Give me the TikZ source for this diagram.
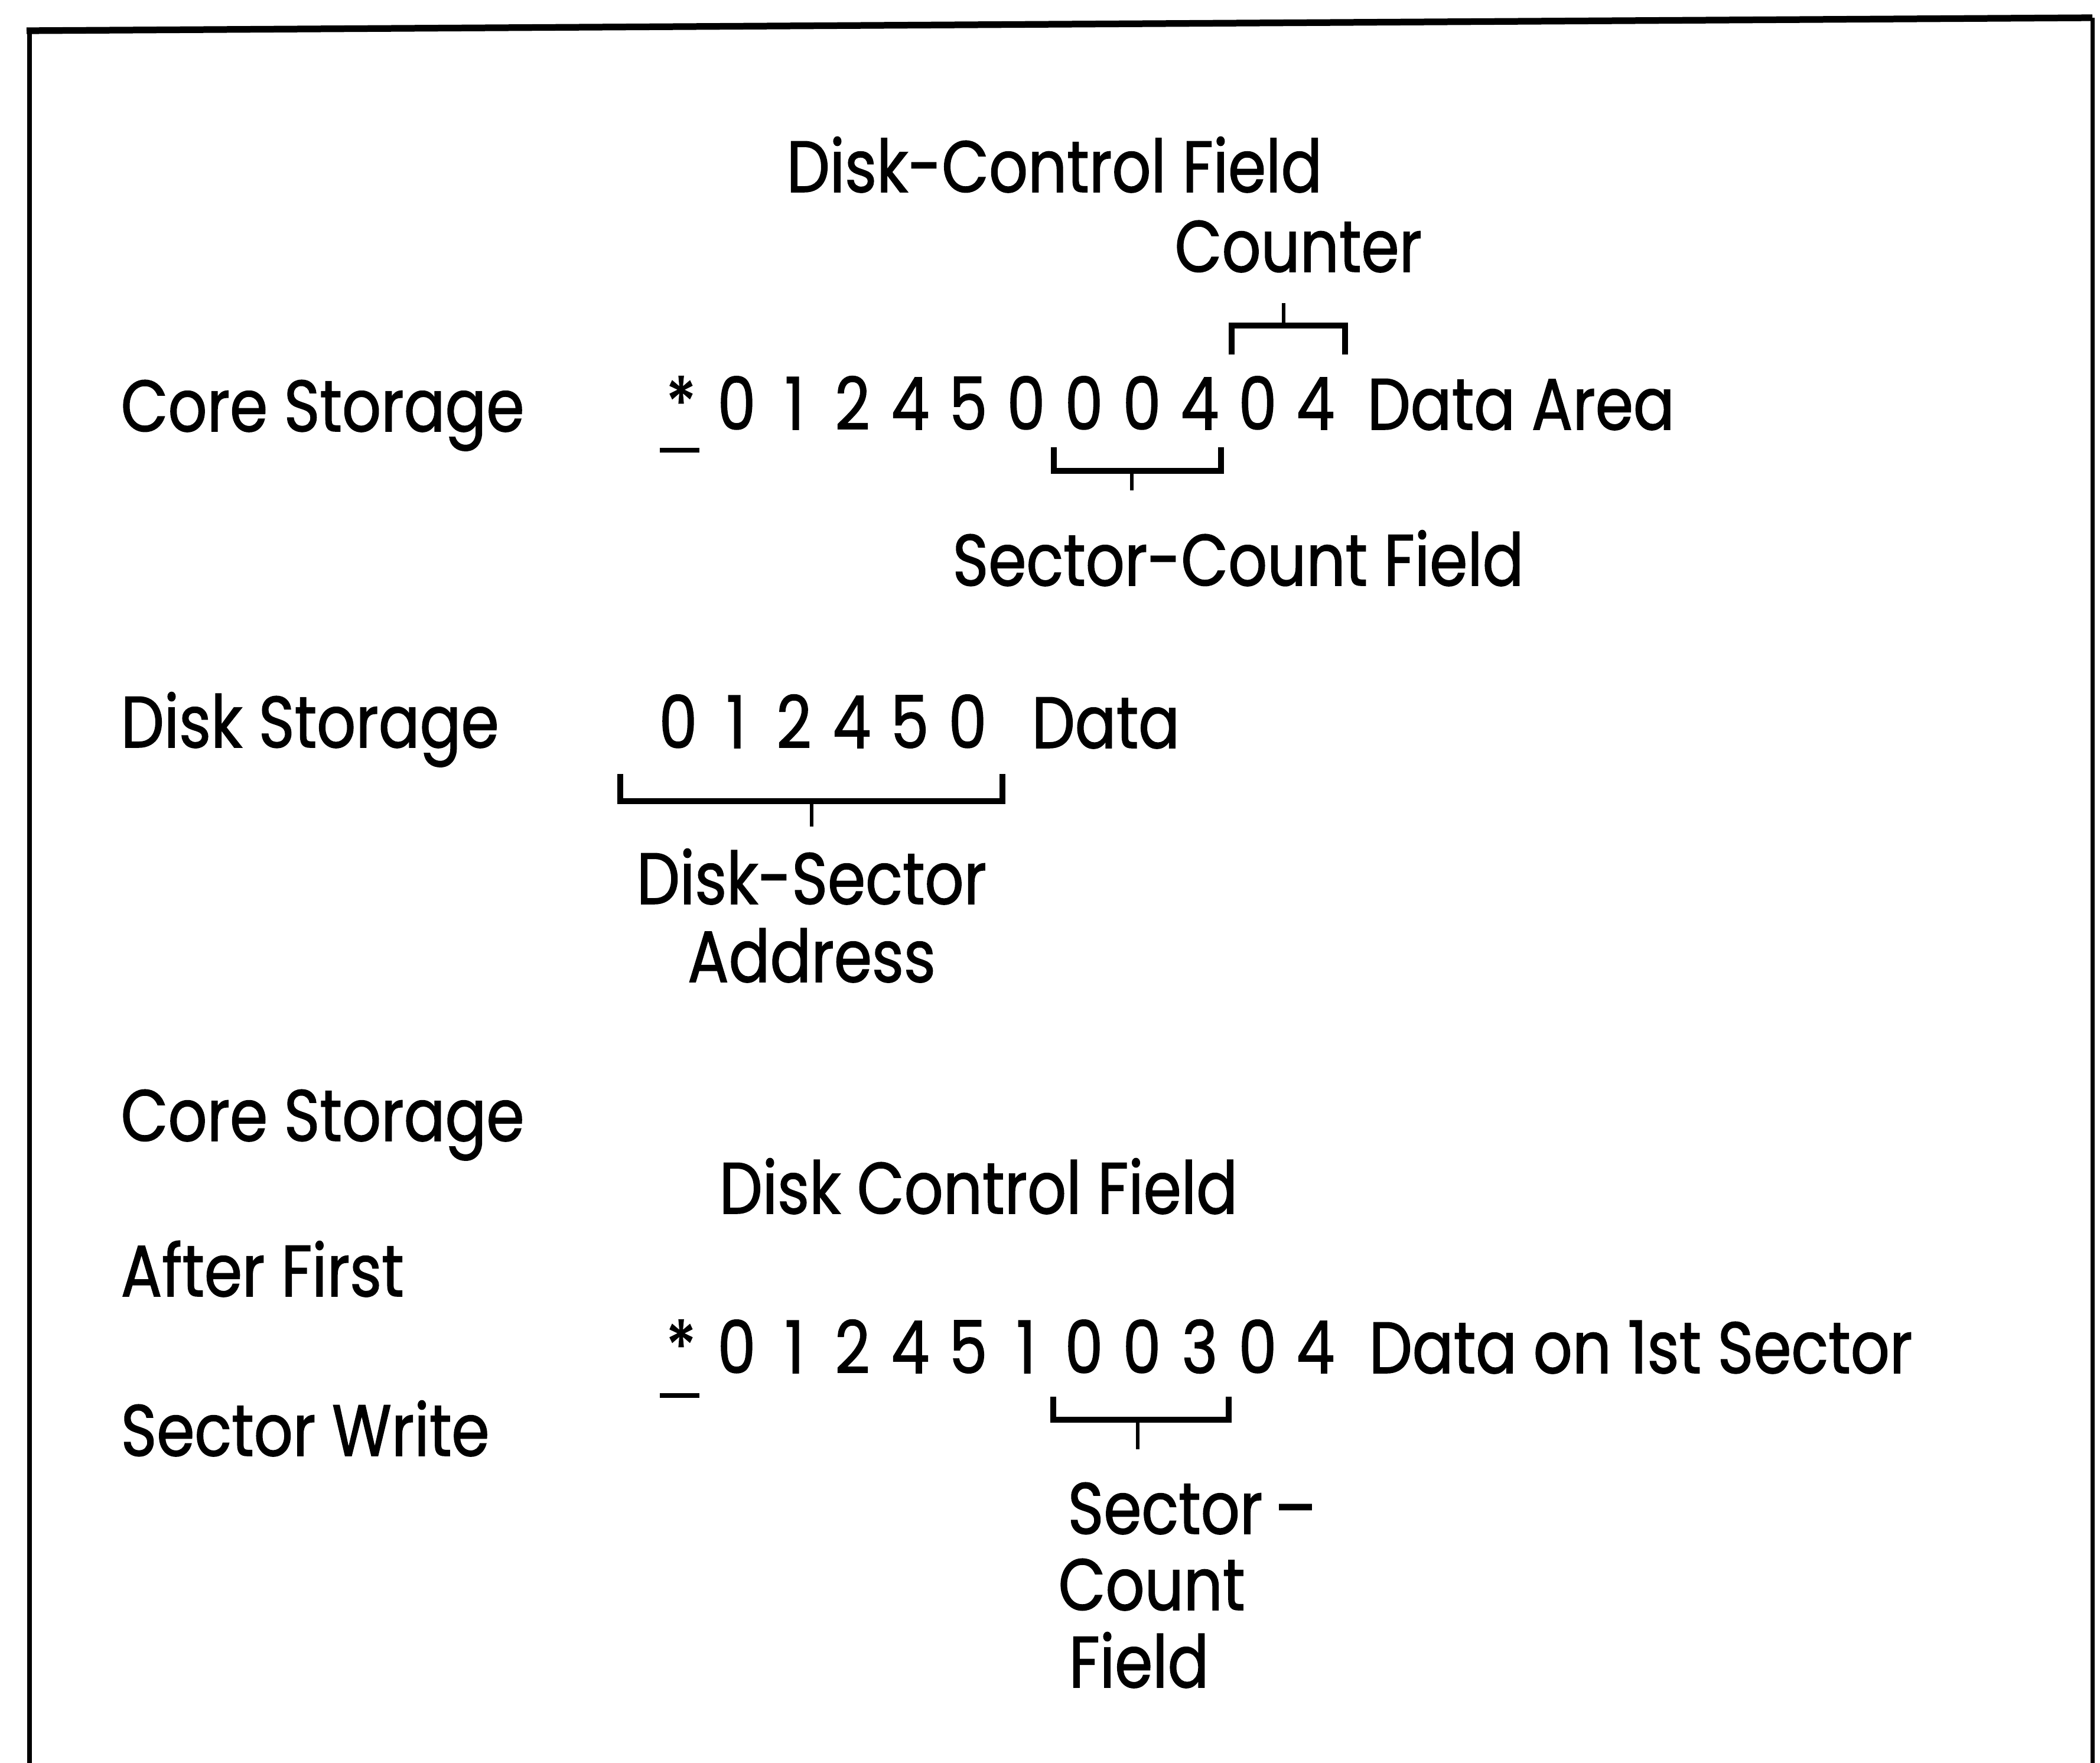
\documentclass[tikz,border=0pt]{standalone}
\usepackage{fontspec}
\setmainfont{Poppins}[FakeStretch=0.84, FakeBold=1.2]
\usepackage{tikz}
\usetikzlibrary{positioning}

\tikzset{
  txt/.style={font=\fontsize{35}{42}\selectfont, inner sep=0pt, anchor=base west},
  dig/.style={font=\fontsize{35}{42}\selectfont, inner sep=0pt, anchor=base},
  brk/.style={line width=2.6pt},
  tick/.style={line width=1.6pt},
  uline/.style={line width=2.4pt},
}

\begin{document}
\begin{tikzpicture}[x=1cm,y=-1cm]
    \useasboundingbox (0,0) rectangle (35.55,29.84);
    % Frame, open at the bottom
    \draw[line width=2pt] (0.50,29.84) -- (0.50,0.52);
    \draw[line width=3.2pt] (0.45,0.52) -- (35.42,0.30);
    \draw[line width=2pt] (35.42,0.30) -- (35.42,29.84);

    % Row labels
    \node[txt] (core1) at (2.04,7.30) {Core Storage};
    \node[txt] (disk) at (2.04,12.65) {Disk Storage};
    \node[txt] (core2) at (2.04,19.31) {Core Storage};
    \node[txt] (after) at (2.04,21.94) {After First};
    \node[txt] (write) at (2.04,24.64) {Sector Write};

    % Core storage before the write
    \node[txt] (dcf) at (13.31,3.25) {Disk-Control Field};
    \node[txt] (ctr) at (19.88,4.60) {Counter};
    \node[dig] (s1) at (11.53,7.27) {*};
    \foreach \d [count=\i] in {0,1,2,4,5,0,0,0,4,0,4}
        \node[dig] (a\i) at ({12.47+0.98*(\i-1)},7.27) {\d};
    \node[txt] (area) at (23.14,7.27) {Data Area};
    \draw[uline] (11.17,7.62) -- (11.84,7.62);
    \draw[brk] (20.85,6.00) -- (20.85,5.51) -- (22.77,5.51) -- (22.77,6.00);
    \draw[tick] (21.73,5.51) -- (21.73,5.13);
    \draw[brk] (17.84,7.57) -- (17.84,7.97) -- (20.67,7.97) -- (20.67,7.57);
    \draw[tick] (19.16,7.97) -- (19.16,8.30);
    \node[txt] (scf) at (16.12,9.91) {Sector-Count Field};

    % Disk storage
    \foreach \d [count=\i] in {0,1,2,4,5,0}
        \node[dig] (b\i) at ({11.48+0.98*(\i-1)},12.66) {\d};
    \node[txt] (data) at (17.46,12.66) {Data};
    \draw[brk] (10.50,13.10) -- (10.50,13.56) -- (16.97,13.56) -- (16.97,13.10);
    \draw[tick] (13.74,13.56) -- (13.74,13.99);
    \node[dig] (dsa) at (13.74,15.30) {Disk-Sector};
    \node[dig] (addr) at (13.74,16.62) {Address};

    % Core storage after the first sector write
    \node[txt] (dcf2) at (12.17,20.54) {Disk Control Field};
    \node[dig] (s3) at (11.53,23.24) {*};
    \foreach \d [count=\i] in {0,1,2,4,5,1,0,0,3,0,4}
        \node[dig] (c\i) at ({12.47+0.98*(\i-1)},23.24) {\d};
    \node[txt] (first) at (23.17,23.24) {Data on 1st Sector};
    \draw[uline] (11.17,23.62) -- (11.84,23.62);
    \draw[brk] (17.83,23.64) -- (17.83,24.03) -- (20.80,24.03) -- (20.80,23.64);
    \draw[tick] (19.26,24.03) -- (19.26,24.53);
    \node[txt] (sec) at (18.07,25.96) {Sector\,--};
    \node[txt] (cnt) at (17.91,27.25) {Count};
    \node[txt] (fld) at (18.09,28.56) {Field};
\end{tikzpicture}
\end{document}
